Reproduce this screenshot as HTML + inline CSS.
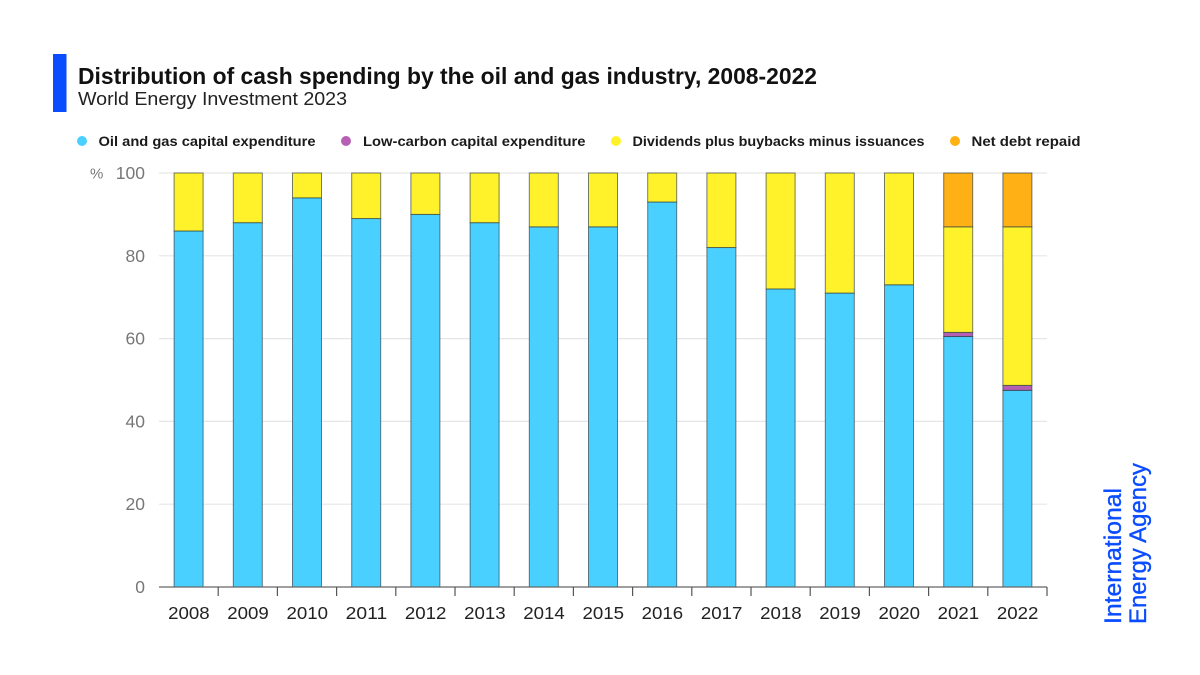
<!DOCTYPE html>
<html>
<head>
<meta charset="utf-8">
<style>
html,body{margin:0;padding:0;background:#fff;width:1200px;height:675px;overflow:hidden}
svg{display:block;font-family:"Liberation Sans",sans-serif}
</style>
</head>
<body>
<svg id="chart" width="1200" height="675" viewBox="0 0 1200 675">
  <rect x="53" y="54" width="13.5" height="58" fill="#0a4cff"/>
  <text x="78" y="84" font-size="23" font-weight="bold" fill="#111" textLength="739" lengthAdjust="spacingAndGlyphs">Distribution of cash spending by the oil and gas industry, 2008-2022</text>
  <text x="78" y="105" font-size="18.5" fill="#222" textLength="269" lengthAdjust="spacingAndGlyphs">World Energy Investment 2023</text>

  <g>
    <g>
      <circle cx="82" cy="141" r="5" fill="#4ad0ff"/>
      <text x="98.500" y="146" font-size="14" font-weight="bold" fill="#1a1a1a" textLength="217" lengthAdjust="spacingAndGlyphs">Oil and gas capital expenditure</text>
    </g>
    <g>
      <circle cx="346" cy="141" r="5" fill="#b560b5"/>
      <text x="363" y="146" font-size="14" font-weight="bold" fill="#1a1a1a" textLength="222.500" lengthAdjust="spacingAndGlyphs">Low-carbon capital expenditure</text>
    </g>
    <g>
      <circle cx="616" cy="141" r="5" fill="#fff22a"/>
      <text x="632.500" y="146" font-size="14" font-weight="bold" fill="#1a1a1a" textLength="292" lengthAdjust="spacingAndGlyphs">Dividends plus buybacks minus issuances</text>
    </g>
    <g>
      <circle cx="955" cy="141" r="5" fill="#ffb014"/>
      <text x="971.500" y="146" font-size="14" font-weight="bold" fill="#1a1a1a" textLength="109" lengthAdjust="spacingAndGlyphs">Net debt repaid</text>
    </g>
  </g>

  <text x="90" y="178.500" font-size="15" fill="#777">%</text>
  <g id="grid"></g>
  <g id="yticks"></g>
  <g id="bars"></g>
  <g id="xaxis"></g>

  <g transform="translate(1121,624) rotate(-90)">
    <text x="0" y="0" font-size="24" fill="#0a4cff" stroke="#0a4cff" stroke-width="0.35" textLength="136" lengthAdjust="spacingAndGlyphs">International</text>
    <text x="0" y="25" font-size="24" fill="#0a4cff" stroke="#0a4cff" stroke-width="0.35" textLength="161" lengthAdjust="spacingAndGlyphs">Energy Agency</text>
  </g>
</svg>
<script>
const categories = ['2008','2009','2010','2011','2012','2013','2014','2015','2016','2017','2018','2019','2020','2021','2022'];
const oilGasCapex = [86,88,94,89,90,88,87,87,93,82,72,71,73,60.5,47.5];
const lowCarbonCapex = [0,0,0,0,0,0,0,0,0,0,0,0,0,1,1.2];
const dividends = [14,12,6,11,10,12,13,13,7,18,28,29,27,25.5,38.3];
const netDebtRepaid = [0,0,0,0,0,0,0,0,0,0,0,0,0,13,13];
const yTickValues = [0,20,40,60,80,100];

const NS = 'http://www.w3.org/2000/svg';
const plotLeft = 159;
const plotRight = 1047;
const yBase = 587;
const yTop = 173;
const barWidth = 29;

function yScale(v){ return yBase - (v / 100) * (yBase - yTop); }
function band(){ return (plotRight - plotLeft) / categories.length; }
function xCenter(i){ return plotLeft + band() * (i + 0.5); }
function make(tag, attrs, parent){
  const el = document.createElementNS(NS, tag);
  for (const k in attrs) el.setAttribute(k, attrs[k]);
  parent.appendChild(el);
  return el;
}

const grid = document.getElementById('grid');
const yticks = document.getElementById('yticks');
yTickValues.forEach(function(v){
  if (v > 0) {
    const line = make('line', {x1: plotLeft, x2: plotRight, y1: yScale(v), y2: yScale(v), stroke: '#e6e6e6', 'stroke-width': 1.2}, grid);
    
    
  }
  const t = make('text', {x: 145, y: yScale(v) + 6, 'text-anchor': 'end', 'font-size': 17.5, fill: '#777'}, yticks);
  t.textContent = String(v);
  
  
});

const seriesList = [
  {key: 'oil-gas-capex', values: oilGasCapex, color: '#4ad0ff'},
  {key: 'low-carbon-capex', values: lowCarbonCapex, color: '#b560b5'},
  {key: 'dividends', values: dividends, color: '#fff22a'},
  {key: 'net-debt-repaid', values: netDebtRepaid, color: '#ffb014'}
];

const bars = document.getElementById('bars');
categories.forEach(function(cat, i){
  let cum = 0;
  seriesList.forEach(function(s){
    const v = s.values[i];
    if (v <= 0) return;
    const y1 = yScale(cum + v);
    const y0 = yScale(cum);
    const r = make('rect', {
      x: xCenter(i) - barWidth / 2, y: y1, width: barWidth, height: y0 - y1,
      fill: s.color, stroke: '#2b3a40', 'stroke-opacity': 0.65, 'stroke-width': 1
    }, bars);
    
    
    cum += v;
  });
});

const xaxis = document.getElementById('xaxis');
const baseline = make('line', {x1: plotLeft, x2: plotRight, y1: yBase, y2: yBase, stroke: '#666', 'stroke-width': 1.2}, xaxis);


categories.forEach(function(cat, i){
  const tx = plotLeft + band() * (i + 1);
  const tick = make('line', {x1: tx, x2: tx, y1: yBase, y2: yBase + 9, stroke: '#555', 'stroke-width': 1.2}, xaxis);
  
  
  const t = make('text', {x: xCenter(i) - 20.5, y: 619, 'font-size': 17.5, fill: '#222', textLength: 41.5, lengthAdjust: 'spacingAndGlyphs'}, xaxis);
  t.textContent = cat;
  
  
});
</script>
</body>
</html>
